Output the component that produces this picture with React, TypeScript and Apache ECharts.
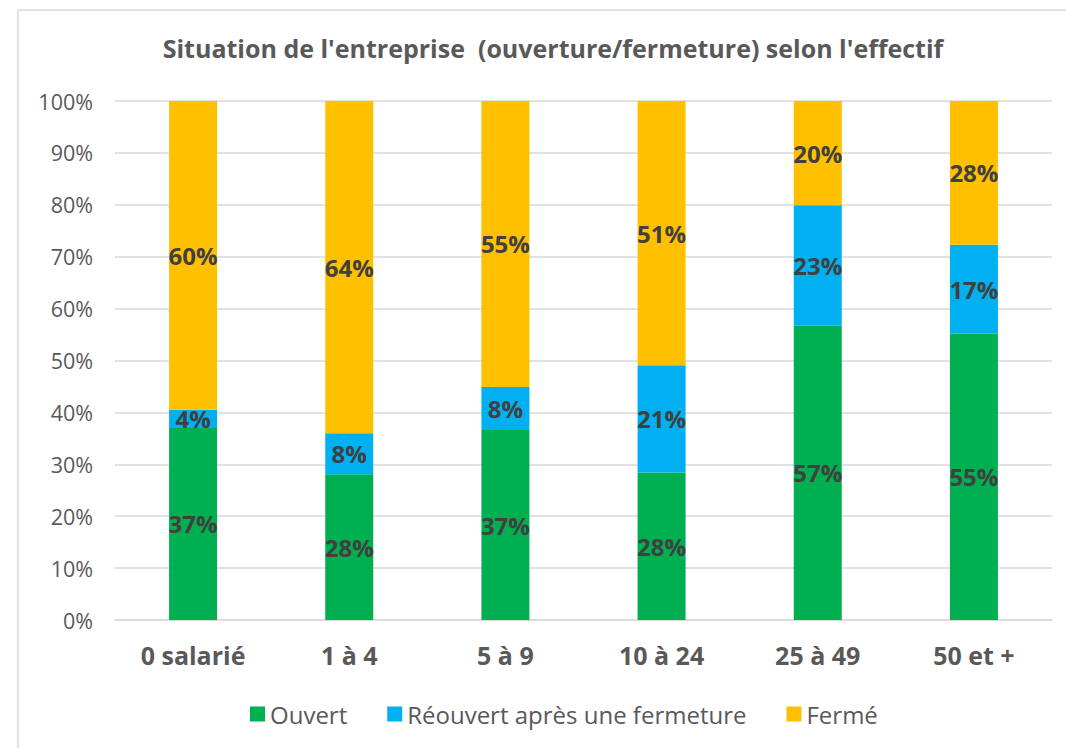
import React, { useEffect, useRef } from "react";
import * as echarts from "echarts";

const categories = ["0 salarié", "1 à 4", "5 à 9", "10 à 24", "25 à 49", "50 et +"];
const ouvert = [37.0, 28.1, 36.6, 28.4, 56.7, 55.2];
const reouvert = [3.5, 7.9, 8.3, 20.7, 23.2, 17.1];
const ferme = [59.5, 64.0, 55.1, 50.9, 20.1, 27.7];
const yTicks = [0, 10, 20, 30, 40, 50, 60, 70, 80, 90, 100];
const titleText = "Situation de l'entreprise  (ouverture/fermeture) selon l'effectif";
const seriesNames = ["Ouvert", "Réouvert après une fermeture", "Fermé"];
const colors = ["#00B050", "#00B0F0", "#FFC000"];

const FONT = "'Open Sans', Lato, sans-serif";

export default function App() {
  const ref = useRef<HTMLDivElement>(null);
  useEffect(() => {
    document.body.style.margin = "0";
    const chart = echarts.init(ref.current!, null, { renderer: "svg" });
    const dataSets = [ouvert, reouvert, ferme];
    chart.setOption({
      animation: false,
      backgroundColor: "#ffffff",
      textStyle: { fontFamily: FONT },
      graphic: [
        {
          type: "rect",
          shape: { x: 18, y: 10, width: 1070, height: 760 },
          style: { fill: "none", stroke: "#d9d9d9", lineWidth: 1.5 },
          silent: true,
        },
      ],
      title: {
        text: titleText,
        left: 548,
        top: 30,
        textAlign: "center",
        textStyle: { fontFamily: FONT, fontSize: 25, fontWeight: "bold", color: "#595959" },
      },
      legend: {
        bottom: 17,
        left: 245,
        itemWidth: 15,
        itemHeight: 15,
        itemGap: 40,
        icon: "rect",
        textStyle: { fontFamily: FONT, fontSize: 24, color: "#595959" },
        data: seriesNames,
      },
      grid: { left: 115, right: 14, top: 101, bottom: 128, containLabel: false },
      xAxis: {
        type: "category",
        data: categories,
        axisLine: { lineStyle: { color: "#d9d9d9", width: 1.5 } },
        axisTick: { show: false },
        axisLabel: {
          fontFamily: FONT,
          fontSize: 25,
          fontWeight: "bold",
          color: "#595959",
          margin: 22,
        },
      },
      yAxis: {
        type: "value",
        min: yTicks[0],
        max: yTicks[yTicks.length - 1],
        interval: 10,
        axisLine: { show: false },
        axisTick: { show: false },
        splitLine: { lineStyle: { color: "#d9d9d9", width: 1.5 } },
        axisLabel: {
          fontFamily: FONT,
          fontSize: 21.5,
          color: "#595959",
          margin: 22,
          formatter: (v: number) => v + "%",
        },
      },
      series: seriesNames.map((name, i) => ({
        name,
        type: "bar",
        stack: "total",
        barWidth: 48,
        data: dataSets[i],
        itemStyle: { color: colors[i] },
        label: {
          show: true,
          position: "inside",
          fontFamily: FONT,
          fontSize: 24,
          fontWeight: "bold",
          color: "#404040",
          formatter: (p: any) => Math.round(p.value) + "%",
        },
      })),
    });
    return () => chart.dispose();
  }, []);
  return <div ref={ref} style={{ width: 1066, height: 748 }} />;
}
